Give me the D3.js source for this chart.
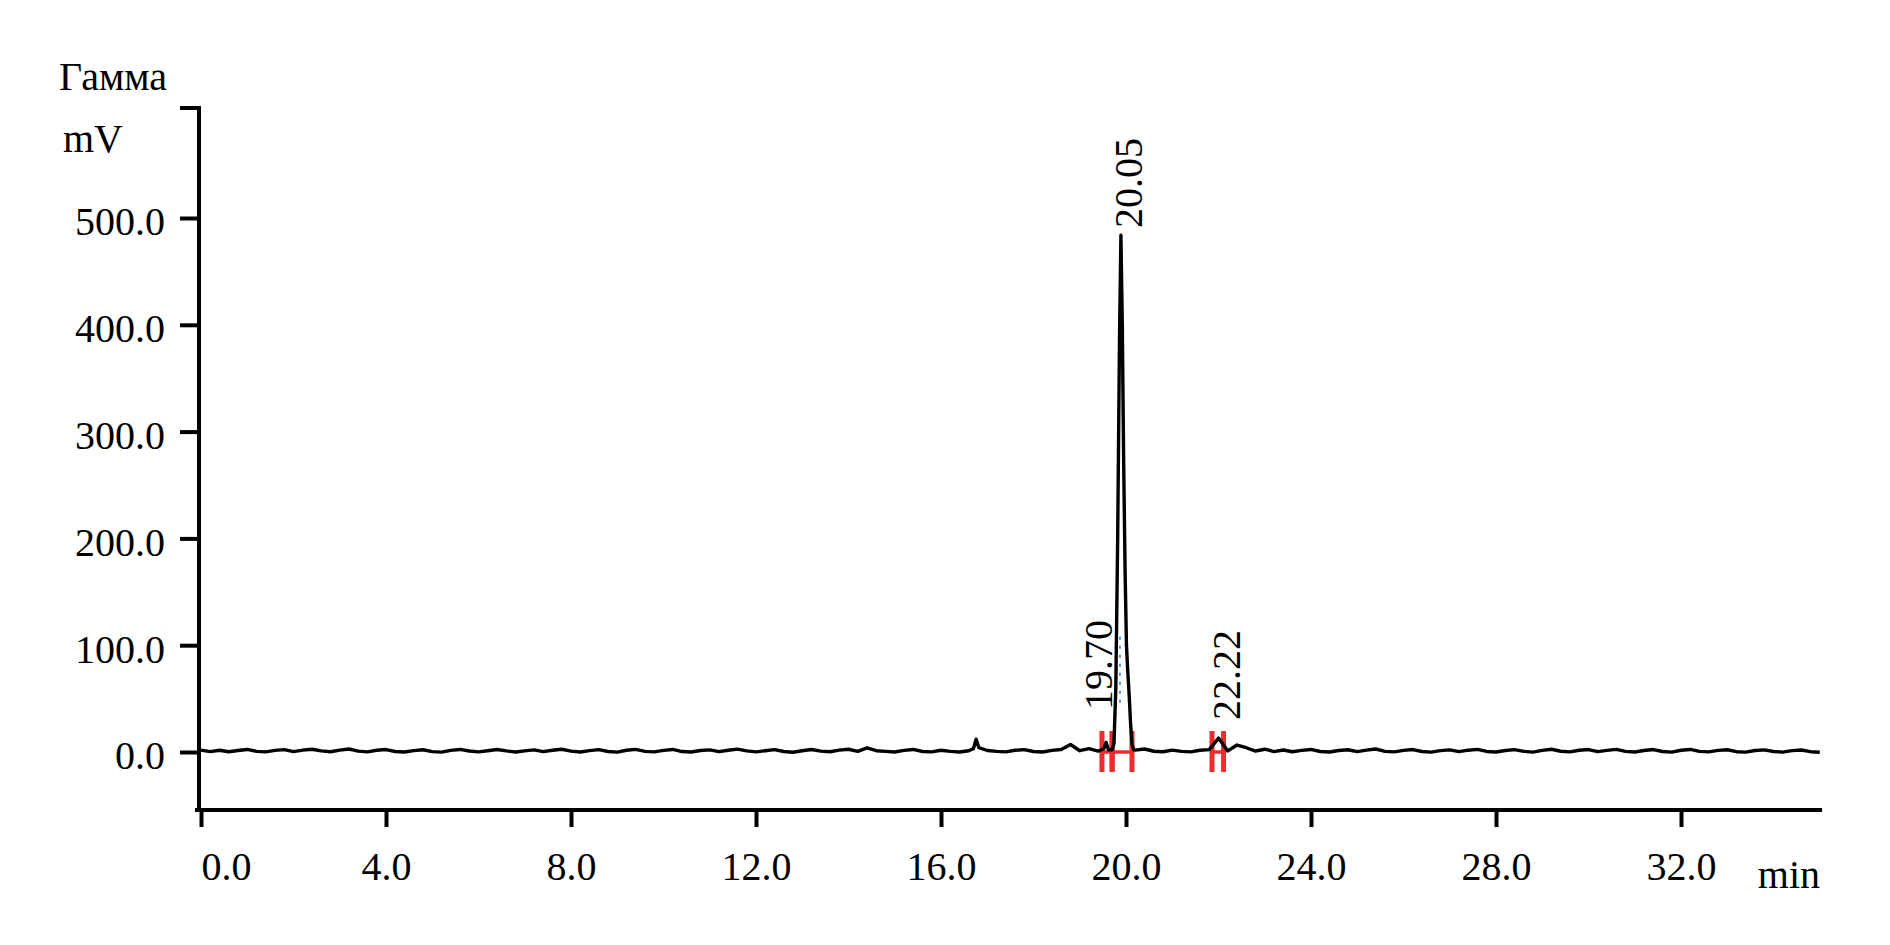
<!DOCTYPE html>
<html>
<head>
<meta charset="utf-8">
<script src="https://cdn.jsdelivr.net/npm/d3@7"></script>
<style>
  body { margin: 0; background: #fff; }
  svg { display: block; }
  text { font-family: "Liberation Serif", "Times New Roman", serif; fill: #000; }
</style>
</head>
<body>
<svg id="chart" width="1890" height="945"></svg>
<script>
// baseline signal, mV, one value every 0.2 min from 0 to 35 (null = covered by detail points)
var baselineMv = [
  1.8, 0.4, 1.6, 0.2, 1.4, 2.4, 0.6, 0.1, 1.5, 2.2,
  0.3, 1.7, 2.6, 1.0, 0.2, 1.8, 2.8, 0.8, 0.1, 1.6,
  2.3, 0.5, 0.0, 1.3, 2.1, 0.4, -0.1, 1.5, 2.4, 0.9,
  0.1, 1.2, 2.3, 1.0, 0.0, 1.1, 2.0, 0.3, 1.6, 2.6,
  0.8, 0.0, 1.3, 2.2, 0.5, -0.1, 1.6, 2.5, 0.6, 0.1,
  1.5, 2.4, 0.4, 0.0, 1.4, 2.0, 0.3, 1.6, 2.7, 1.0,
  0.1, 1.2, 2.2, 0.5, -0.2, 1.2, 2.3, 0.8, 0.2, 1.8,
  2.6, 0.6, 3.8, 1.2, 0.6, 0.0, 1.5, 2.4, 0.5, 0.1,
  1.6, 0.6, 0.0, 1.2, null, 1.4, 0.6, 0.1, 1.6, 2.2,
  0.5, 0.0, 1.5, 2.4, 7.0, 1.2, 3.2, 0.8, null, null,
  null, 1.8, 2.8, 0.7, 0.2, 1.7, 0.6, 0.1, 1.6, 2.2,
  13.0, 1.0, 6.5, 4.0, 0.9, 2.6, 0.4, 1.9, 0.2, 1.5,
  2.4, 0.5, 0.0, 1.4, 2.1, 0.3, 1.7, 2.8, 0.6, 0.1,
  1.5, 2.3, 0.5, -0.1, 1.3, 2.0, 0.3, 1.7, 2.5, 0.5,
  0.0, 1.4, 2.2, 0.6, -0.1, 1.5, 2.6, 0.7, 0.1, 1.6,
  2.3, 0.3, 1.5, 2.5, 0.6, 0.0, 1.4, 2.3, 0.5, -0.1,
  1.6, 2.4, 0.6, 0.1, 1.5, 2.1, 0.3, -0.1, 1.4, 2.0,
  0.5, -0.1, 1.3, 1.9, 0.3, -0.2
];
var baselineStep = 0.2;

// finer points around the peaks
var detailTimes = [16.70, 16.76, 16.82,
  19.52, 19.57, 19.62, 19.70, 19.74, 19.78, 19.82, 19.86, 19.89, 19.92,
  19.95, 19.98, 20.01, 20.04, 20.07, 20.10, 20.13, 20.17];
var detailMv = [3, 12, 4,
  3, 9, 2, 2, 8, 60, 200, 390, 484, 400,
  270, 170, 100, 74, 52, 26, 7, 2];

// peak labels (retention times) and integration marks
var peakLabels = ["19.70", "20.05", "22.22"];
var markStart = [19.48, 19.70, 21.86];
var markEnd = [19.70, 20.13, 22.11];

var xTicks = [0, 4, 8, 12, 16, 20, 24, 28, 32];
var yTicks = [0, 100, 200, 300, 400, 500];

var svg = d3.select("#chart");

var x = d3.scaleLinear().domain([0, 35]).range([201, 201 + 35 * 46.25]);
var y = d3.scaleLinear().domain([0, 500]).range([752, 218]);

var points = [];
baselineMv.forEach(function(v, i) {
  if (v !== null) points.push([i * baselineStep, v]);
});
detailTimes.forEach(function(t, i) { points.push([t, detailMv[i]]); });
points.sort(function(a, b) { return a[0] - b[0]; });

// axes
var xAxisY = 810;
var yAxisX = 199;

var xAxis = svg.append("g")
    .attr("transform", "translate(0," + xAxisY + ")")
    .call(d3.axisBottom(x).tickValues(xTicks).tickSize(17).tickPadding(25)
      .tickFormat(d3.format(".1f")));
xAxis.select(".domain").remove();
xAxis.selectAll(".tick line").attr("stroke", "#000").attr("stroke-width", 4);
xAxis.selectAll(".tick text")
    .attr("font-size", 40)
    .attr("font-family", "Liberation Serif, Times New Roman, serif")
    .attr("text-anchor", function(d) { return d === 0 ? "start" : "middle"; });

var yAxis = svg.append("g")
    .attr("transform", "translate(" + yAxisX + ",0)")
    .call(d3.axisLeft(y).tickValues(yTicks).tickSize(19).tickPadding(15)
      .tickFormat(d3.format(".1f")));
yAxis.select(".domain").remove();
yAxis.selectAll(".tick line").attr("stroke", "#000").attr("stroke-width", 4);
yAxis.selectAll(".tick text")
    .attr("font-size", 40)
    .attr("dy", "0.42em")
    .attr("font-family", "Liberation Serif, Times New Roman, serif");

// axis lines
var yTop = y(603);
svg.append("path")
    .attr("d", "M" + (yAxisX - 19) + "," + yTop + "H" + yAxisX + "V" + xAxisY)
    .attr("fill", "none").attr("stroke", "#000").attr("stroke-width", 4);
svg.append("line")
    .attr("x1", x(-0.13)).attr("x2", x(35.05))
    .attr("y1", xAxisY).attr("y2", xAxisY)
    .attr("stroke", "#000").attr("stroke-width", 4);

// axis titles
svg.append("text").attr("x", 59).attr("y", 90).attr("font-size", 40).text("Гамма");
svg.append("text").attr("x", 63).attr("y", 152).attr("font-size", 40).text("mV");
svg.append("text").attr("x", 1820).attr("y", 888).attr("font-size", 40)
    .attr("text-anchor", "end").text("min");

// integration marks (red)
var marks = svg.append("g").attr("stroke", "#ec2d2d").attr("fill", "none");
markStart.forEach(function(s, i) {
  var e = markEnd[i];
  marks.append("line").attr("x1", x(s)).attr("x2", x(e))
      .attr("y1", y(0)).attr("y2", y(0)).attr("stroke-width", 3.5);
  [s, e].forEach(function(t) {
    marks.append("line").attr("x1", x(t)).attr("x2", x(t))
        .attr("y1", y(0) - 21).attr("y2", y(0) + 20).attr("stroke-width", 5);
  });
});

// faint drop line inside main peak
svg.append("line")
    .attr("x1", x(19.87)).attr("x2", x(19.87))
    .attr("y1", y(108)).attr("y2", y(42))
    .attr("stroke", "#3a7cc0").attr("stroke-width", 1.6)
    .attr("stroke-dasharray", "3,6");

// chromatogram trace
var line = d3.line()
    .x(function(d) { return x(d[0]); })
    .y(function(d) { return y(d[1]); });

svg.append("path")
    .datum(points)
    .attr("d", line)
    .attr("fill", "none")
    .attr("stroke", "#000")
    .attr("stroke-width", 3.4)
    .attr("stroke-linejoin", "round");

// rotated retention time labels
var apex = detailTimes[detailMv.indexOf(d3.max(detailMv))];
var labelPos = [
  [x(19.70), y(0) - 42],
  [x(apex) + 21, y(d3.max(detailMv)) - 7],
  [x(22.22) + 11, y(0) - 32]
];
peakLabels.forEach(function(lbl, i) {
  svg.append("text")
      .attr("transform", "translate(" + labelPos[i][0] + "," + labelPos[i][1] + ") rotate(-90)")
      .attr("font-size", 40)
      .text(lbl);
});
</script>
</body>
</html>
